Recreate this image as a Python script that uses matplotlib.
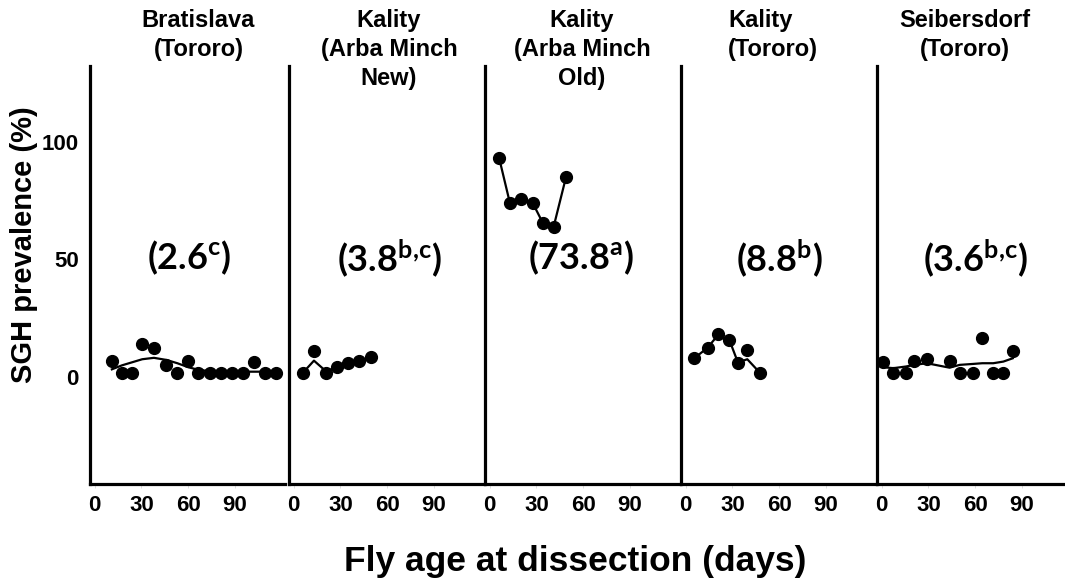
import matplotlib
matplotlib.use("Agg")
import matplotlib.pyplot as plt

# ---------------- data ----------------
panel_titles = ["Bratislava\n(Tororo)", "Kality\n(Arba Minch\nNew)", "Kality\n(Arba Minch\nOld)",
                "Kality\n(Tororo)", "Seibersdorf\n(Tororo)"]
mean_labels = [r"$(2.6^{\mathrm{c}})$", r"$(3.8^{\mathrm{b{,}c}})$", r"$(73.8^{\mathrm{a}})$",
               r"$(8.8^{\mathrm{b}})$", r"$(3.6^{\mathrm{b{,}c}})$"]

days_bratislava = [11, 17.5, 24, 30.5, 38, 46, 53, 60, 66.5, 74, 81, 88, 95, 102, 109, 116]
sgh_bratislava = [6.8, 1.4, 1.4, 13.9, 12.1, 5.0, 1.4, 6.8, 1.4, 1.4, 1.4, 1.4, 1.4, 6.4, 1.4, 1.4]
fit_bratislava = [3.1, 4.8, 6.1, 7.4, 8.0, 7.1, 5.7, 4.0, 2.9, 2.3, 2.1, 2.1, 2.1, 2.1, 2.1, 2.1]

days_am_new = [6, 13, 21, 28, 35, 42, 49.5]
sgh_am_new = [1.4, 11.1, 1.4, 4.3, 5.7, 6.7, 8.3]
fit_am_new = [1.7, 6.8, 2.1, 4.3, 5.7, 6.7, 8.3]

days_am_old = [6, 13, 20, 27.5, 34, 41, 49]
sgh_am_old = [93.2, 73.8, 75.6, 74.0, 65.5, 63.8, 85.1]
fit_am_old = [93.2, 73.8, 75.6, 74.0, 65.5, 63.8, 85.1]

days_kality_tororo = [5.5, 14, 20.5, 28, 33.5, 39.5, 47.5]
sgh_kality_tororo = [7.8, 12.3, 18.0, 15.6, 6.0, 11.4, 1.7]
fit_kality_tororo = [7.8, 12.3, 17.5, 15.6, 6.0, 7.4, 1.7]

days_seibersdorf = [1, 7.5, 15.5, 21, 29, 43.5, 50, 58.5, 64.5, 71.5, 78, 84]
sgh_seibersdorf = [6.1, 1.7, 1.7, 6.8, 7.4, 6.7, 1.7, 1.7, 16.6, 1.7, 1.7, 11.1]
fit_seibersdorf = [4.0, 3.6, 4.3, 5.0, 5.7, 3.8, 5.0, 5.4, 5.7, 5.7, 6.4, 7.8]

x_ticks = [0, 30, 60, 90]
y_ticks = [0, 50, 100]

panels = [
    (days_bratislava, sgh_bratislava, fit_bratislava),
    (days_am_new, sgh_am_new, fit_am_new),
    (days_am_old, sgh_am_old, fit_am_old),
    (days_kality_tororo, sgh_kality_tororo, fit_kality_tororo),
    (days_seibersdorf, sgh_seibersdorf, fit_seibersdorf),
]

# ---------------- style ----------------
plt.rcParams["font.family"] = ["Liberation Sans", "DejaVu Sans"]
plt.rcParams["font.weight"] = "bold"
plt.rcParams["mathtext.fontset"] = "custom"
plt.rcParams["mathtext.rm"] = "Lato:bold"
plt.rcParams["mathtext.it"] = "Lato:bold"
plt.rcParams["mathtext.bf"] = "Lato:bold"

W, H = 1065, 586
fig = plt.figure(figsize=(W / 100, H / 100), dpi=100)

def fx(px):
    return px / W

def fy(py):
    return 1 - py / H

panel_left_px = [90, 289, 485, 681, 877]
panel_w_px = 195
top_px, bottom_px = 66, 484

title_x_px = [198.5, 389, 582, 728, 965]
title_ha = ["center", "center", "center", "left", "center"]
label_x_px = [189, 389, 581, 779, 975]

for i, (days, sgh, fit) in enumerate(panels):
    ax = fig.add_axes([fx(panel_left_px[i]), fy(bottom_px), fx(panel_w_px),
                       (bottom_px - top_px) / H])
    ax.plot(days, fit, color="black", lw=1.6, zorder=2)
    ax.plot(days, sgh, "o", color="black", ms=8.5, zorder=3)
    ax.set_xlim(-3, 122)
    ax.set_ylim(-45.7, 132.2)
    for s in ["top", "right"]:
        ax.spines[s].set_visible(False)
    for s in ["left", "bottom"]:
        ax.spines[s].set_linewidth(2.3)
        ax.spines[s].set_color("black")
    ax.set_xticks(x_ticks)
    ax.set_xticklabels([str(t) for t in x_ticks], fontsize=16, fontweight="bold")
    ax.tick_params(axis="x", length=3, width=0.6, color="#d8d8d8", pad=5)
    if i == 0:
        ax.set_yticks(y_ticks)
        ax.set_yticklabels([str(t) for t in y_ticks], fontsize=16, fontweight="bold")
        ax.tick_params(axis="y", length=0, pad=8)
    else:
        ax.set_yticks([])
    ax.patch.set_alpha(0)

    fig.text(fx(title_x_px[i]), fy(9), panel_titles[i], ha=title_ha[i], va="top",
             fontsize=17, fontweight="bold", linespacing=1.33)
    fig.text(fx(label_x_px[i]), fy(258), mean_labels[i], ha="center", va="center",
             fontsize=26)

fig.text(fx(24), fy(245), "SGH prevalence (%)", rotation=90, ha="center", va="center",
         fontsize=21, fontweight="bold")
fig.text(fx(575), fy(562), "Fly age at dissection (days)", ha="center", va="center",
         fontsize=25.5, fontweight="bold")

fig.savefig("out.png", dpi=100)
